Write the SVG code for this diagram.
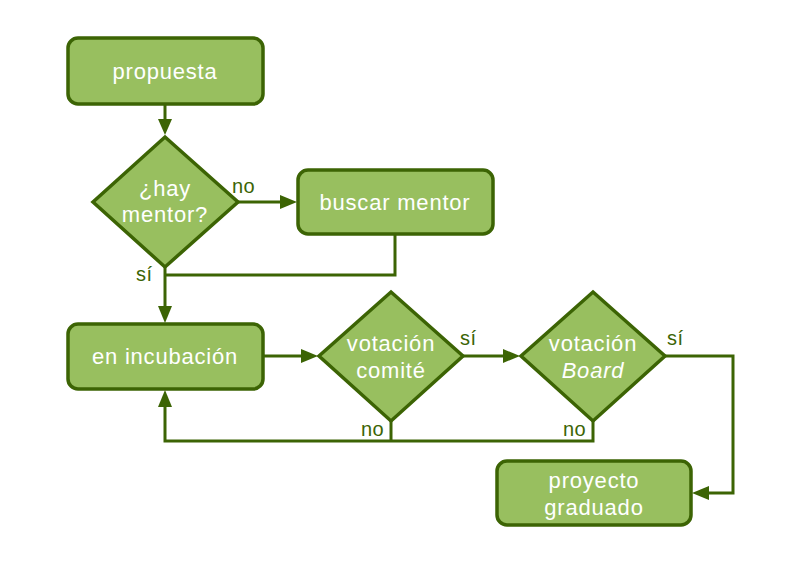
<svg xmlns="http://www.w3.org/2000/svg" width="800" height="564" viewBox="0 0 800 564">
<defs>
<style>
.n{fill:#98bf5f;stroke:#3c6404;stroke-width:3.5}
.t{fill:#fff;font-family:"Liberation Sans",Arial,sans-serif;font-size:22px;letter-spacing:0.8px;text-anchor:middle}
.c{fill:none;stroke:#3c6404;stroke-width:3}
.h{fill:#3c6404}
.l{fill:#3c6404;font-family:"Liberation Sans",Arial,sans-serif;font-size:20px;letter-spacing:0.5px}
</style>
</defs>
<rect width="800" height="564" fill="#fff"/>
<g id="connectors">
<path class="c" d="M165,104 V121"/>
<path class="h" d="M158,119 L165,135 L172,119 z"/>
<path class="c" d="M238,202 H282"/>
<path class="h" d="M280,195 L297,202 L280,209 z"/>
<path class="c" d="M395,234 V275 H165"/>
<path class="c" d="M165,267 V308"/>
<path class="h" d="M158,306 L165,323 L172,306 z"/>
<path class="c" d="M263,356 H303"/>
<path class="h" d="M301,349 L318,356 L301,363 z"/>
<path class="c" d="M463,356 H505"/>
<path class="h" d="M503,349 L520,356 L503,363 z"/>
<path class="c" d="M665,356 H733 V493 H707"/>
<path class="h" d="M709,486 L692,493 L709,500 z"/>
<path class="c" d="M391,421 V441"/>
<path class="c" d="M593,421 V441 H165 V405"/>
<path class="h" d="M158,407 L165,390 L172,407 z"/>
</g>
<g id="propuesta"><rect class="n" x="68" y="38" width="195" height="66" rx="10"/><text class="t" x="165" y="79">propuesta</text></g>
<g id="hay-mentor"><path class="n" d="M165,137 L238,202 L165,267 L93,202 z"/><text class="t" x="165" y="196">¿hay</text><text class="t" x="165" y="222">mentor?</text></g>
<g id="buscar-mentor"><rect class="n" x="298" y="170" width="195" height="64" rx="10"/><text class="t" x="395" y="210">buscar mentor</text></g>
<g id="en-incubacion"><rect class="n" x="68" y="324" width="195" height="65" rx="10"/><text class="t" x="165" y="364">en incubación</text></g>
<g id="votacion-comite"><path class="n" d="M391,292 L463,356 L391,421 L319,356 z"/><text class="t" x="391" y="351">votación</text><text class="t" x="391" y="378">comité</text></g>
<g id="votacion-board"><path class="n" d="M593,292 L665,356 L593,421 L521,356 z"/><text class="t" x="593" y="351">votación</text><text class="t" x="593" y="378" font-style="italic">Board</text></g>
<g id="proyecto-graduado"><rect class="n" x="497" y="461" width="194" height="64" rx="10"/><text class="t" x="594" y="488">proyecto</text><text class="t" x="594" y="515">graduado</text></g>
<g id="labels">
<text class="l" x="232" y="193">no</text>
<text class="l" x="136" y="281">sí</text>
<text class="l" x="460" y="345">sí</text>
<text class="l" x="667" y="345">sí</text>
<text class="l" x="361" y="436">no</text>
<text class="l" x="563" y="436">no</text>
</g>
</svg>
